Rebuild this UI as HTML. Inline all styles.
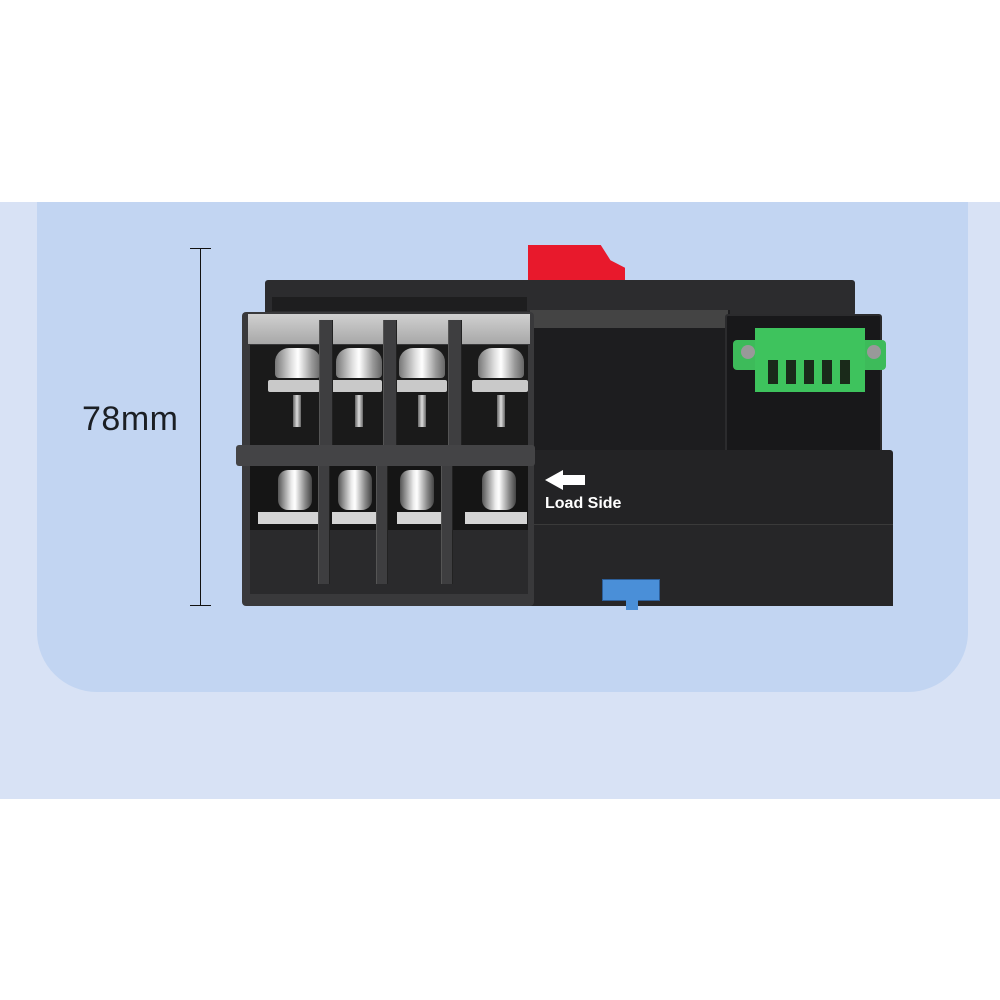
<!DOCTYPE html>
<html><head><style>
*{margin:0;padding:0;box-sizing:border-box}
body{width:1000px;height:1000px;position:relative;background:#fff;overflow:hidden;font-family:"Liberation Sans",sans-serif}
div{position:absolute}
.scr{width:46px;height:30px;border-radius:14px 14px 4px 4px;background:linear-gradient(90deg,#777,#ddd 35%,#fff 50%,#999 80%,#666)}
.wash{height:12px;background:#c9c9c9;border-radius:2px}
.stem{width:8px;height:32px;background:linear-gradient(90deg,#666,#ddd,#666)}
.bscr{width:34px;height:40px;border-radius:10px;background:linear-gradient(90deg,#555,#eee 40%,#fff 50%,#888 80%,#444)}
.plate{height:12px;background:#d4d4d4}
.vd{background:#3e3e40;border-left:1px solid #555;border-right:1px solid #222}
</style></head><body>
<div style="left:0;top:202px;width:1000px;height:597px;background:#d8e2f5"></div>
<div style="left:37px;top:202px;width:931px;height:490px;background:#c2d5f2;border-radius:0 0 60px 60px"></div>
<!-- dimension -->
<div style="left:200px;top:249px;width:1px;height:357px;background:#111"></div>
<div style="left:190px;top:248px;width:21px;height:1px;background:#111"></div>
<div style="left:190px;top:605px;width:21px;height:1px;background:#111"></div>
<div style="left:82px;top:400px;font-size:34px;color:#1b1f24;letter-spacing:0.5px">78mm</div>
<!-- red handle -->
<div style="left:528px;top:245px;width:97px;height:38px;background:#e8192c;clip-path:polygon(0 0,75% 0,85% 40%,100% 60%,100% 100%,0 100%)"></div>
<!-- back rail -->
<div style="left:265px;top:280px;width:590px;height:36px;background:#2c2c2e;border-radius:3px"></div>
<div style="left:272px;top:297px;width:255px;height:14px;background:#1e1e1f"></div>
<!-- right body -->
<div style="left:530px;top:310px;width:200px;height:296px;background:#1d1d1f"></div>
<div style="left:530px;top:310px;width:198px;height:18px;background:#444"></div>
<div style="left:725px;top:314px;width:157px;height:140px;background:#18181a;border:2px solid #2b2b2d;border-radius:3px"></div>
<div style="left:530px;top:450px;width:363px;height:156px;background:#232325;border-radius:3px"></div>
<div style="left:530px;top:524px;width:363px;height:82px;background:#262628;border-top:1px solid #3a3a3a"></div>
<!-- green connector -->
<div style="left:733px;top:340px;width:153px;height:30px;background:#3dbb5a;border-radius:4px"></div>
<div style="left:755px;top:328px;width:110px;height:64px;background:#3ec35d"></div>
<div style="left:741px;top:345px;width:14px;height:14px;border-radius:50%;background:#999"></div>
<div style="left:867px;top:345px;width:14px;height:14px;border-radius:50%;background:#999"></div>
<div style="left:768px;top:360px;width:90px;height:24px;background:repeating-linear-gradient(90deg,#1a2a1a 0 10px,#3ec35d 10px 18px)"></div>
<!-- left terminal block -->
<div style="left:242px;top:312px;width:292px;height:294px;background:#39393b;border-radius:4px"></div>
<div style="left:248px;top:314px;width:282px;height:30px;background:linear-gradient(#d0d0d0,#a8a8a8)"></div>
<div style="left:250px;top:345px;width:278px;height:100px;background:#1a1a1a"></div>
<div style="left:250px;top:466px;width:278px;height:64px;background:#151515"></div>
<div style="left:250px;top:530px;width:278px;height:64px;background:#2a2a2c"></div>
<!-- top screws -->
<div class="scr" style="left:275px;top:348px"></div><div class="wash" style="left:268px;top:380px;width:52px"></div><div class="stem" style="left:293px;top:395px"></div>
<div class="scr" style="left:336px;top:348px"></div><div class="wash" style="left:330px;top:380px;width:52px"></div><div class="stem" style="left:355px;top:395px"></div>
<div class="scr" style="left:399px;top:348px"></div><div class="wash" style="left:395px;top:380px;width:52px"></div><div class="stem" style="left:418px;top:395px"></div>
<div class="scr" style="left:478px;top:348px"></div><div class="wash" style="left:472px;top:380px;width:56px"></div><div class="stem" style="left:497px;top:395px"></div>
<!-- bottom screws -->
<div class="bscr" style="left:278px;top:470px"></div><div class="plate" style="left:258px;top:512px;width:60px"></div>
<div class="bscr" style="left:338px;top:470px"></div><div class="plate" style="left:332px;top:512px;width:45px"></div>
<div class="bscr" style="left:400px;top:470px"></div><div class="plate" style="left:397px;top:512px;width:45px"></div>
<div class="bscr" style="left:482px;top:470px"></div><div class="plate" style="left:465px;top:512px;width:62px"></div>
<!-- dividers -->
<div class="vd" style="left:319px;top:320px;width:14px;height:128px"></div>
<div class="vd" style="left:383px;top:320px;width:14px;height:128px"></div>
<div class="vd" style="left:448px;top:320px;width:14px;height:128px"></div>
<div class="vd" style="left:318px;top:460px;width:12px;height:124px"></div>
<div class="vd" style="left:376px;top:460px;width:12px;height:124px"></div>
<div class="vd" style="left:441px;top:460px;width:12px;height:124px"></div>
<div style="left:236px;top:445px;width:299px;height:21px;background:#444446;border-radius:3px"></div>
<!-- load side -->
<div style="left:545px;top:470px;width:40px;height:20px;background:#fff;clip-path:polygon(0 50%,45% 0,45% 25%,100% 25%,100% 75%,45% 75%,45% 100%)"></div>
<div style="left:545px;top:495px;color:#fff;font-size:16px;font-weight:bold">Load Side</div>
<!-- blue clip -->
<div style="left:602px;top:579px;width:58px;height:22px;background:#4a8fd8;border:1px solid #2c5e99"></div>
<div style="left:626px;top:600px;width:12px;height:10px;background:#4a8fd8"></div>
</body></html>
